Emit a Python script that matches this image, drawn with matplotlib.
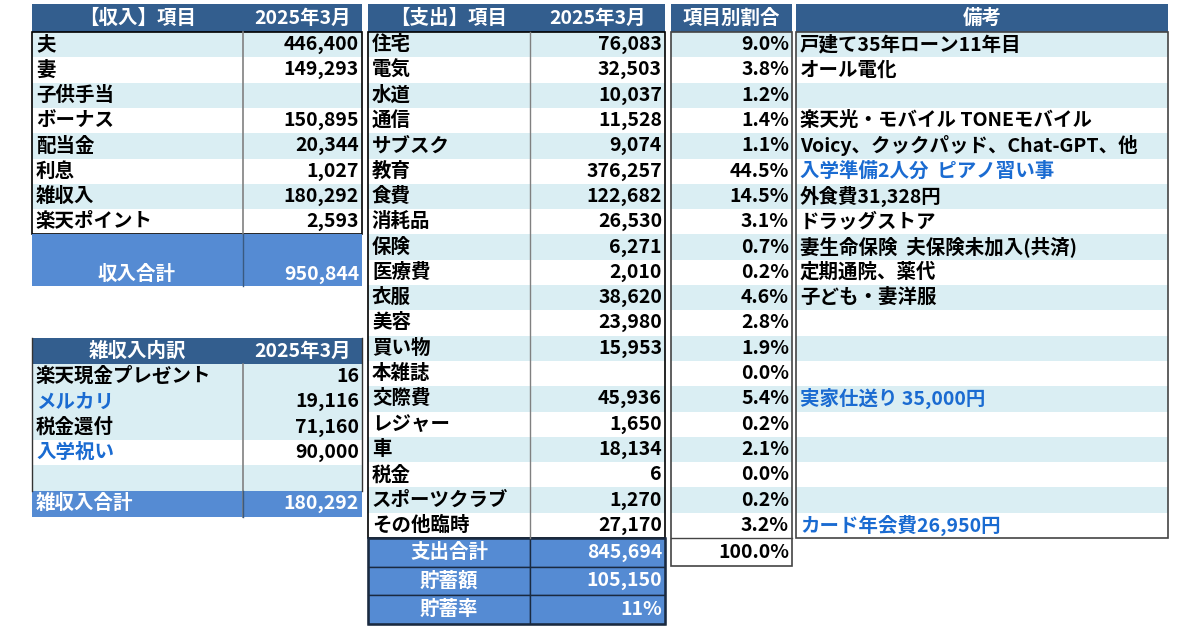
import matplotlib.pyplot as plt
from matplotlib.patches import Rectangle

plt.rcParams['font.family'] = 'Noto Sans CJK JP'
plt.rcParams['font.weight'] = 'bold'

# 収入
inc_items = ['夫', '妻', '子供手当', 'ボーナス', '配当金', '利息', '雑収入', '楽天ポイント']
inc_vals = ['446,400', '149,293', '', '150,895', '20,344', '1,027', '180,292', '2,593']
inc_total = '950,844'

# 雑収入内訳
misc_items = ['楽天現金プレゼント', 'メルカリ', '税金還付', '入学祝い', '']
misc_vals = ['16', '19,116', '71,160', '90,000', '']
misc_blue = [False, True, False, True, False]
misc_total = '180,292'

# 支出
exp_items = ['住宅', '電気', '水道', '通信', 'サブスク', '教育', '食費', '消耗品', '保険', '医療費',
             '衣服', '美容', '買い物', '本雑誌', '交際費', 'レジャー', '車', '税金', 'スポーツクラブ', 'その他臨時']
exp_vals = ['76,083', '32,503', '10,037', '11,528', '9,074', '376,257', '122,682', '26,530', '6,271', '2,010',
            '38,620', '23,980', '15,953', '', '45,936', '1,650', '18,134', '6', '1,270', '27,170']
exp_pct = ['9.0%', '3.8%', '1.2%', '1.4%', '1.1%', '44.5%', '14.5%', '3.1%', '0.7%', '0.2%',
           '4.6%', '2.8%', '1.9%', '0.0%', '5.4%', '0.2%', '2.1%', '0.0%', '0.2%', '3.2%']
notes = ['戸建て35年ローン11年目', 'オール電化', '', '楽天光・モバイル TONEモバイル',
         'Voicy、クックパッド、Chat-GPT、他', '入学準備2人分  ピアノ習い事', '外食費31,328円', 'ドラッグストア',
         '妻生命保険  夫保険未加入(共済)', '定期通院、薬代', '子ども・妻洋服', '', '', '',
         '実家仕送り 35,000円', '', '', '', '', 'カード年会費26,950円']
notes_blue = [5, 14, 19]
summary_labels = ['支出合計', '貯蓄額', '貯蓄率']
summary_vals = ['845,694', '105,150', '11%']
pct_total = '100.0%'

HEAD = '#335E8E'
TOT = '#558BD3'
LB = '#DAEEF3'
BLUE = '#1A6BD1'
FS = 14

fig = plt.figure(figsize=(12, 6.3), dpi=100)
ax = fig.add_axes([0, 0, 1, 1])
ax.set_xlim(0, 1200)
ax.set_ylim(630, 0)
ax.axis('off')


def cell(x0, x1, y0, y1, fc, text='', align='left', color='black', ec='none'):
    ax.add_patch(Rectangle((x0, y0), x1 - x0, y1 - y0, fc=fc, ec=ec, lw=1))
    if text:
        if align == 'left':
            ax.text(x0 + 4, (y0 + y1) / 2, text, ha='left', va='center', fontsize=FS, color=color)
        elif align == 'right':
            ax.text(x1 - 3, (y0 + y1) / 2, text, ha='right', va='center', fontsize=FS, color=color)
        else:
            ax.text((x0 + x1) / 2, (y0 + y1) / 2, text, ha='center', va='center', fontsize=FS, color=color)


def frame(x0, x1, y0, y1, color='black', lw=1.2):
    ax.add_patch(Rectangle((x0, y0), x1 - x0, y1 - y0, fc='none', ec=color, lw=lw))


rh = 25.3
top = 32

# 収入テーブル
cell(32, 243, 4, top, HEAD, '【収入】項目', 'center', 'white')
cell(243, 362, 4, top, HEAD, '2025年3月', 'center', 'white')
for i, (it, v) in enumerate(zip(inc_items, inc_vals)):
    y0 = top + i * rh
    fc = LB if i % 2 == 0 else 'white'
    cell(32, 243, y0, y0 + rh, fc, it)
    cell(243, 362, y0, y0 + rh, fc, v, 'right')
yb = top + len(inc_items) * rh
frame(32, 362, top, yb)
ax.plot([243, 243], [top, yb], color='gray', lw=1.2)
ax.add_patch(Rectangle((32, yb), 330, 52, fc=TOT, ec='none'))
ax.plot([243, 243], [yb, yb + 52], color='#3a5a80', lw=1)
ax.text(137, yb + 40, '収入合計', ha='center', va='center', fontsize=FS, color='white')
ax.text(359, yb + 40, inc_total, ha='right', va='center', fontsize=FS, color='white')

# 雑収入内訳
t2 = 338
cell(32, 243, t2, t2 + 26, HEAD, '雑収入内訳', 'center', 'white')
cell(243, 362, t2, t2 + 26, HEAD, '2025年3月', 'center', 'white')
for i, (it, v) in enumerate(zip(misc_items, misc_vals)):
    y0 = t2 + 26 + i * rh
    fc = 'white' if i == 3 else LB
    cell(32, 243, y0, y0 + rh, fc, it, color=BLUE if misc_blue[i] else 'black')
    cell(243, 362, y0, y0 + rh, fc, v, 'right')
yb2 = t2 + 26 + len(misc_items) * rh
ax.plot([32, 32], [t2, yb2], color='#333', lw=1)
ax.plot([362, 362], [t2, yb2], color='#333', lw=1)
ax.plot([243, 243], [t2 + 26, yb2 + 26], color='gray', lw=1.2)
cell(32, 243, yb2, yb2 + 26, TOT, '雑収入合計', color='white')
cell(243, 362, yb2, yb2 + 26, TOT, misc_total, 'right', 'white')
ax.plot([243, 243], [yb2, yb2 + 26], color='#3a5a80', lw=1)

# 支出テーブル
cols = [(368, 530), (530, 665), (671, 792), (796, 1168)]
heads = ['【支出】項目', '2025年3月', '項目別割合', '備考']
for (x0, x1), h in zip(cols, heads):
    cell(x0, x1, 4, top, HEAD, h, 'center', 'white')
for i in range(len(exp_items)):
    y0 = top + i * rh
    fc = LB if i % 2 == 0 else 'white'
    cell(368, 530, y0, y0 + rh, fc, exp_items[i])
    cell(530, 665, y0, y0 + rh, fc, exp_vals[i], 'right')
    cell(671, 792, y0, y0 + rh, fc, exp_pct[i], 'right')
    cell(796, 1168, y0, y0 + rh, fc, notes[i], color=BLUE if i in notes_blue else 'black')
ye = top + len(exp_items) * rh
frame(368, 665, top, ye)
ax.plot([530, 530], [top, ye], color='gray', lw=1)
frame(671, 792, top, ye + 28, color='#444')
ax.plot([671, 792], [ye, ye], color='#444', lw=1)
ax.text(789, ye + 14, pct_total, ha='right', va='center', fontsize=FS)
frame(796, 1168, top, ye, color='#444')

for i, (lab, v) in enumerate(zip(summary_labels, summary_vals)):
    y0 = ye + i * 28.5
    cell(368, 530, y0, y0 + 28.5, TOT, lab, 'center', 'white', ec='#1a2a40')
    cell(530, 665, y0, y0 + 28.5, TOT, v, 'right', 'white', ec='#1a2a40')
frame(368, 665, ye, ye + 3 * 28.5, color='#1a2a40', lw=1.8)

fig.savefig('out.png', dpi=100)
